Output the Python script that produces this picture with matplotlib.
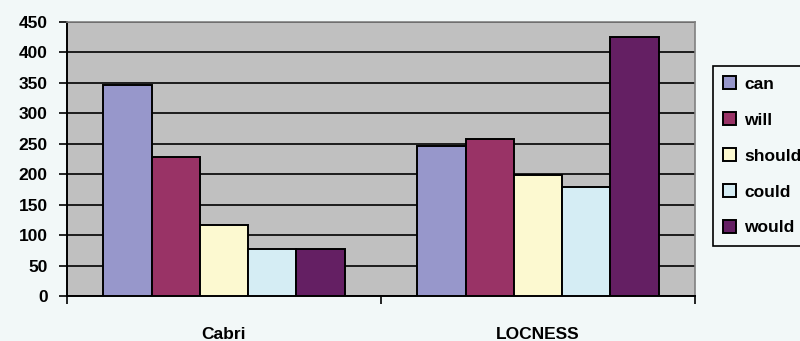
import matplotlib

matplotlib.use("Agg")
import matplotlib.pyplot as plt
import numpy as np

categories = ["Cabri", "LOCNESS"]
series_names = ["can", "will", "should", "could", "would"]
can = [346, 247]
will = [229, 258]
should = [117, 198]
could = [78, 179]
would = [78, 426]
y_ticks = [0, 50, 100, 150, 200, 250, 300, 350, 400, 450]

series_values = [can, will, should, could, would]
colors = ["#9797CB", "#993366", "#FCF9D0", "#D5EDF4", "#641F63"]

plt.rcParams["font.family"] = ["Liberation Sans", "DejaVu Sans"]
plt.rcParams["font.weight"] = "bold"

fig = plt.figure(figsize=(8.0, 3.41), dpi=100, facecolor="#F2F8F8")
ax = fig.add_axes([67 / 800, 45 / 341, 628 / 800, 274 / 341])
ax.set_facecolor("#C0C0C0")

x = np.arange(len(categories))
width = 1 / 6.5
handles = []
for i, (name, values, color) in enumerate(zip(series_names, series_values, colors)):
    bars = ax.bar(
        x + (i - 2) * width,
        values,
        width,
        color=color,
        edgecolor="black",
        linewidth=1.4,
        label=name,
        zorder=3,
    )
    handles.append(bars)

ax.set_xlim(-0.5, len(categories) - 0.5)
ax.set_ylim(0, 450)
ax.set_yticks(y_ticks)
ax.yaxis.grid(True, color="black", linewidth=1.2, zorder=1)
ax.set_axisbelow(True)

ax.set_xticks(x)
ax.set_xticklabels(categories)
ax.set_xticks(np.arange(len(categories) + 1) - 0.5, minor=True)
ax.tick_params(axis="x", which="major", length=0, pad=22, labelsize=12.5)
ax.tick_params(axis="x", which="minor", length=6, width=1.2, color="black")
ax.tick_params(axis="y", length=6, width=1.2, pad=8, labelsize=12.5)
for label in ax.get_xticklabels() + ax.get_yticklabels():
    label.set_fontweight("bold")

for side in ("top", "right"):
    ax.spines[side].set_color("#808080")
    ax.spines[side].set_linewidth(1.2)
for side in ("left", "bottom"):
    ax.spines[side].set_color("black")
    ax.spines[side].set_linewidth(1.4)

leg = fig.legend(
    handles,
    series_names,
    loc="upper left",
    bbox_to_anchor=(713 / 800, 1 - 66 / 341),
    frameon=True,
    fancybox=False,
    edgecolor="black",
    facecolor="#F2F8F8",
    framealpha=1,
    prop={"weight": "bold", "size": 12.5},
    handlelength=0.75,
    handleheight=0.75,
    handletextpad=0.46,
    labelspacing=1.18,
    borderpad=0.6,
    borderaxespad=0,
)
leg.get_frame().set_linewidth(1.2)

fig.savefig("out.png", dpi=100, facecolor=fig.get_facecolor())
